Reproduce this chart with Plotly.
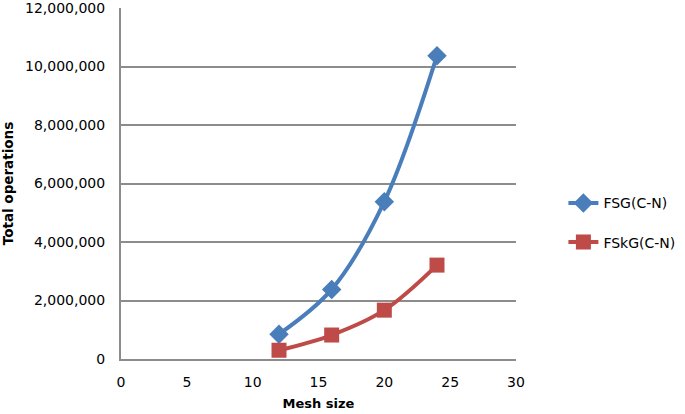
import plotly.graph_objects as go

mesh_size = [12, 16, 20, 24]
fsg_ops = [850000, 2380000, 5380000, 10370000]
fskg_ops = [300000, 820000, 1670000, 3210000]
series_names = ["FSG(C-N)", "FSkG(C-N)"]

BLUE = "#4a7ebb"
RED = "#be4b48"
GRID = "#8c8c8c"
FONT = "DejaVu Sans"

fig = go.Figure()
fig.add_trace(go.Scatter(
    x=mesh_size, y=fsg_ops, name=series_names[0], mode="lines+markers",
    line=dict(color=BLUE, width=4, shape="spline", smoothing=1.0),
    marker=dict(symbol="diamond", size=15, color=BLUE),
    legendgroup="a",
))
fig.add_trace(go.Scatter(
    x=mesh_size, y=fskg_ops, name=series_names[1], mode="lines+markers",
    line=dict(color=RED, width=4, shape="spline", smoothing=1.0),
    marker=dict(symbol="square", size=15, color=RED),
    legendgroup="b",
))

fig.update_layout(
    width=685, height=414,
    margin=dict(l=121, r=169, t=8, b=55, autoexpand=False),
    paper_bgcolor="white", plot_bgcolor="white",
    font=dict(family=FONT, size=14, color="#000000"),
    showlegend=True,
    legend=dict(x=1.12, y=0.388, xanchor="left", yanchor="middle",
                font=dict(family=FONT, size=14), tracegroupgap=18,
                bgcolor="rgba(0,0,0,0)"),
    xaxis=dict(
        range=[0, 30], tickvals=[0, 5, 10, 15, 20, 25, 30],
        showgrid=False, zeroline=False, automargin=False,
        showline=True, linecolor=GRID, linewidth=2,
        ticks="", ticklabelstandoff=9, ticklabeloverflow="allow",
        title=dict(text="<b>Mesh size</b>", font=dict(family=FONT, size=13), standoff=10),
    ),
    yaxis=dict(
        range=[0, 12000000], tickvals=[0, 2000000, 4000000, 6000000, 8000000, 10000000, 12000000],
        tickformat=",d", automargin=False,
        showgrid=True, gridcolor=GRID, gridwidth=2, zeroline=False,
        showline=True, linecolor=GRID, linewidth=2,
        ticks="", ticklabelstandoff=11, ticklabeloverflow="allow",
        title=dict(text="<b>Total operations</b>", font=dict(family=FONT, size=13.5), standoff=8),
    ),
)

fig.write_html("out.html", config={"displayModeBar": False},
               post_script="document.body.style.margin='0';")
